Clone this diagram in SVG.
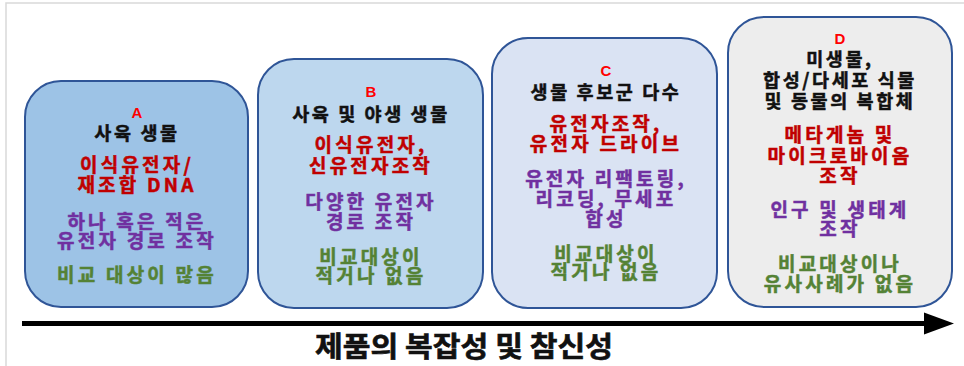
<svg xmlns="http://www.w3.org/2000/svg" width="964" height="366" viewBox="0 0 964 366">
<defs>
<style>
.box{stroke:#2f5597;stroke-width:2}
text{font-family:"Liberation Sans","Noto Sans CJK KR",sans-serif;font-weight:bold;text-anchor:middle}
.ko{font-family:"Noto Sans CJK KR","Liberation Sans",sans-serif;stroke-width:0.5px}
.let{fill:#ff0000;font-size:15px}
.hd{fill:#111;stroke:#111;font-size:18.5px;letter-spacing:2.6px}
.r{fill:#c00000;stroke:#c00000;font-size:19px;letter-spacing:3.2px}
.p{fill:#7030a0;stroke:#7030a0;font-size:19px;letter-spacing:3.2px}
.g{fill:#548235;stroke:#548235;font-size:19px;letter-spacing:3.2px}
.ax{fill:#111;stroke:#111;stroke-width:0.6px}
</style>
<marker id="ah" markerUnits="userSpaceOnUse" markerWidth="32" markerHeight="24" refX="2" refY="12" orient="auto">
<polygon points="0,1 30,12 0,23" fill="#000"/>
</marker>
</defs>
<rect width="964" height="366" fill="#fff"/>
<path d="M6,366 V3 H964" fill="none" stroke="#d9d9d9" stroke-width="1.5"/>

<g id="nodeA">
<rect class="box" x="25" y="81" width="223" height="226" rx="36" fill="#9dc3e6"/>
<text class="let" x="137" y="118">A</text>
<text class="hd ko" x="137" y="140">사육 생물</text>
<text class="r ko" x="137" y="172">이식유전자/</text>
<text class="r ko" x="137" y="192">재조합 DNA</text>
<text class="p ko" x="137" y="229">하나 혹은 적은</text>
<text class="p ko" x="137" y="248">유전자 경로 조작</text>
<text class="g ko" x="137" y="282">비교 대상이 많음</text>
</g>

<g id="nodeB">
<rect class="box" x="258" y="59" width="225" height="249" rx="36" fill="#bdd7ee"/>
<text class="let" x="371" y="97">B</text>
<text class="hd ko" x="371" y="121">사육 및 야생 생물</text>
<text class="r ko" x="371" y="152">이식유전자,</text>
<text class="r ko" x="371" y="173">신유전자조작</text>
<text class="p ko" x="371" y="209">다양한 유전자</text>
<text class="p ko" x="371" y="229">경로 조작</text>
<text class="g ko" x="371" y="264">비교대상이</text>
<text class="g ko" x="371" y="283">적거나 없음</text>
</g>

<g id="nodeC">
<rect class="box" x="492" y="38" width="225" height="270" rx="36" fill="#dae3f3"/>
<text class="let" x="606" y="76">C</text>
<text class="hd ko" x="606" y="99">생물 후보군 다수</text>
<text class="r ko" x="606" y="131">유전자조작,</text>
<text class="r ko" x="606" y="151">유전자 드라이브</text>
<text class="p ko" x="606" y="186">유전자 리팩토링,</text>
<text class="p ko" x="606" y="206">리코딩, 무세포</text>
<text class="p ko" x="606" y="226">합성</text>
<text class="g ko" x="606" y="261">비교대상이</text>
<text class="g ko" x="606" y="279">적거나 없음</text>
</g>

<g id="nodeD">
<rect class="box" x="728" y="17" width="224" height="290" rx="36" fill="#ededed"/>
<text class="let" x="840" y="44">D</text>
<text class="hd ko" x="840" y="66">미생물,</text>
<text class="hd ko" x="840" y="87">합성/다세포 식물</text>
<text class="hd ko" x="840" y="108">및 동물의 복합체</text>
<text class="r ko" x="840" y="142">메타게놈 및</text>
<text class="r ko" x="840" y="163">마이크로바이옴</text>
<text class="r ko" x="840" y="183">조작</text>
<text class="p ko" x="840" y="217">인구 및 생태계</text>
<text class="p ko" x="840" y="236">조작</text>
<text class="g ko" x="840" y="271">비교대상이나</text>
<text class="g ko" x="840" y="291">유사사례가 없음</text>
</g>

<g id="connectors">
<line x1="22" y1="323.5" x2="926" y2="323.5" stroke="#000" stroke-width="5" marker-end="url(#ah)"/>
</g>

<text class="ko ax" x="464" y="357" font-size="28" textLength="298" lengthAdjust="spacingAndGlyphs">제품의 복잡성 및 참신성</text>
</svg>
